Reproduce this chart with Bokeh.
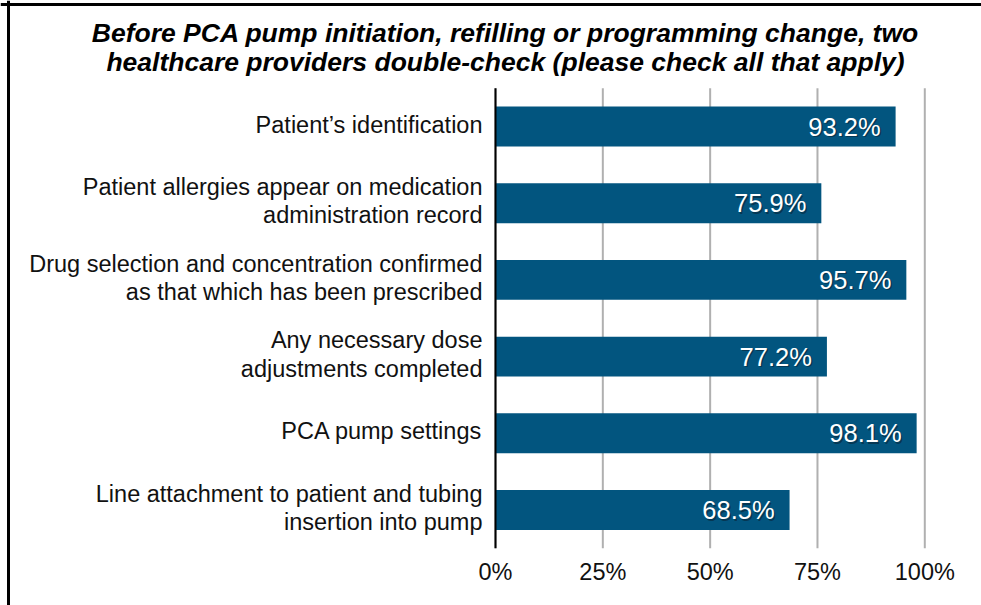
from bokeh.plotting import figure
from bokeh.models import ColumnDataSource, Range1d, Span
from bokeh.core.properties import value
from bokeh.embed import file_html
from bokeh.resources import INLINE

# ---- data ----
categories = [
    "Patient\u2019s identification",
    "Patient allergies appear on medication\nadministration record",
    "Drug selection and concentration confirmed\nas that which has been prescribed",
    "Any necessary dose\nadjustments completed",
    "PCA pump settings",
    "Line attachment to patient and tubing\ninsertion into pump",
]
values = [93.2, 75.9, 95.7, 77.2, 98.1, 68.5]
x_ticks = [0, 25, 50, 75, 100]
x_tick_labels = ["0%", "25%", "50%", "75%", "100%"]
title_lines = [
    "Before PCA pump initiation, refilling or programming change, two",
    "healthcare providers double-check (please check all that apply)",
]

FONT = value("Liberation Sans")
BAR = "#02557f"
GRID = "#b0b0b0"

# layout: canvas pixels -> data (0% at x=495px, 100% at x=924px; first bar centre y=126px)
W, H = 981, 605
PX_X = 4.293
PX_Y = 76.7
X_ZERO, Y_FIRST = 495, 126
x0 = -X_ZERO / PX_X
x1 = (W - X_ZERO) / PX_X
ytop = -Y_FIRST / PX_Y
ybot = (H - Y_FIRST) / PX_Y

def px_x(px):
    return (px - X_ZERO) / PX_X

def px_y(py):
    return (py - Y_FIRST) / PX_Y

n = len(categories)
idx = list(range(n))

src = ColumnDataSource(dict(
    y=idx,
    lab=categories,
    val=values,
    vtxt=[f"{v:.1f}%" for v in values],
    vpos=[v - 15 / PX_X for v in values],
    lpos=[px_x(482)] * n,
))

p = figure(width=W, height=H, output_backend="svg", toolbar_location=None,
           x_range=Range1d(x0, x1), y_range=Range1d(ybot, ytop),
           min_border=0, outline_line_color=None)
p.axis.visible = False
p.grid.visible = False
p.background_fill_color = "white"
p.border_fill_color = "white"

# gridlines
tick_src = ColumnDataSource(dict(x=x_ticks, lab=x_tick_labels))
p.segment(x0="x", y0=-0.5, x1="x", y1=n - 0.5, source=tick_src,
          line_color=GRID, line_width=2)

# bars
p.hbar(y="y", right="val", left=0, height=0.52, source=src,
       fill_color=BAR, line_color=None)

# y axis line
p.segment(x0=[0], y0=[-0.5], x1=[0], y1=[n - 0.5], line_color="black", line_width=2)

# x tick labels
p.text(x="x", y=px_y(571), text="lab", source=tick_src,
       text_align="center", text_baseline="middle", text_font=FONT,
       text_font_size="23.5px", text_color="#111111")

# category labels
p.text(x="lpos", y="y", text="lab", source=src, y_offset=-2,
       text_align="right", text_baseline="middle", text_font=FONT,
       text_font_size="23.5px", text_line_height=1.1, text_color="#111111")

# value labels with shadow
p.text(x="vpos", y="y", text="vtxt", source=src, x_offset=1.5, y_offset=1.5,
       text_align="right", text_baseline="middle", text_font=FONT,
       text_font_size="25.5px", text_color="#0a1e2e", text_alpha=0.55)
p.text(x="vpos", y="y", text="vtxt", source=src,
       text_align="right", text_baseline="middle", text_font=FONT,
       text_font_size="25.5px", text_color="white")

# title
title_src = ColumnDataSource(dict(x=[px_x(505)] * 2,
                                  y=[px_y(32), px_y(61)],
                                  t=title_lines))
p.text(x="x", y="y", text="t", source=title_src, text_align="center",
       text_baseline="middle", text_font=FONT, text_font_size="26.5px",
       text_font_style="bold italic", text_color="black")

# frame border lines (left and top)
p.add_layout(Span(location=px_x(8), dimension="height",
                  line_color="black", line_width=3))
p.add_layout(Span(location=px_y(4), dimension="width",
                  line_color="black", line_width=3))

open("out.html", "w").write(file_html(p, INLINE))
